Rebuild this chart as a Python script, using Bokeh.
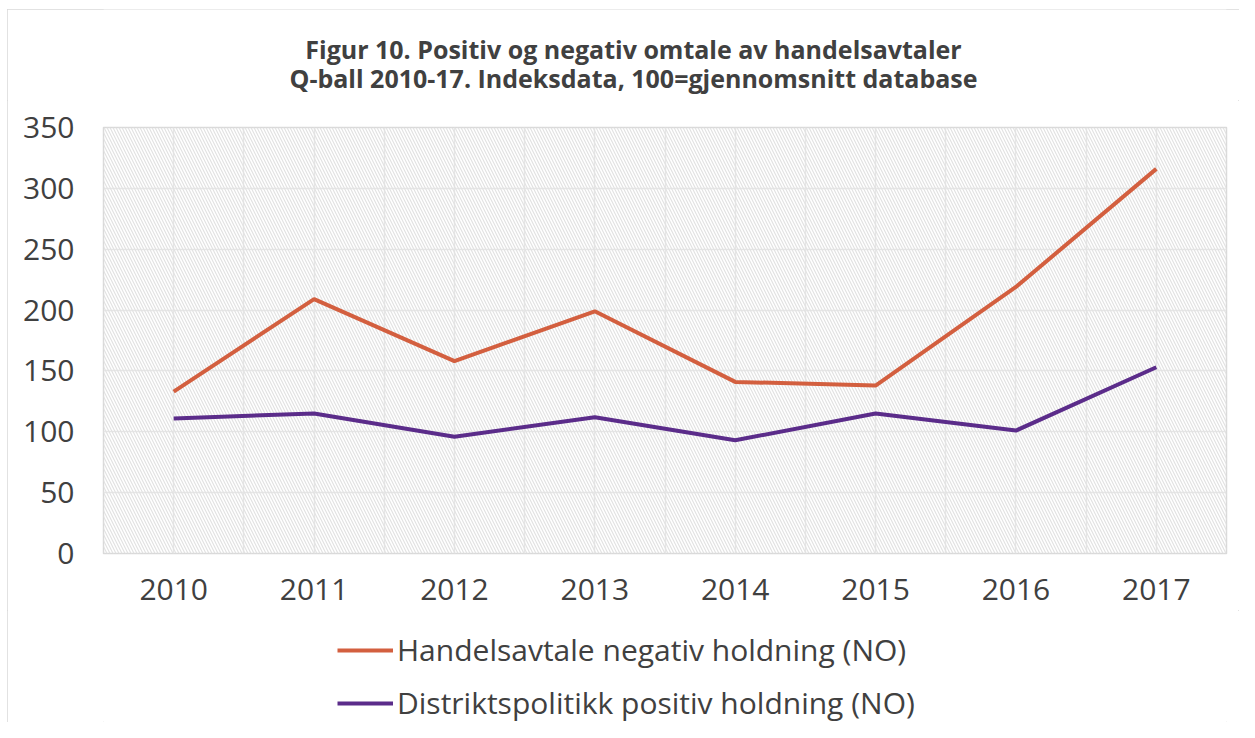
from bokeh.plotting import figure
from bokeh.layouts import column
from bokeh.models import (FixedTicker, Legend, LegendItem, BoxAnnotation, Label,
                          Range1d)
from bokeh.embed import file_html
from bokeh.resources import INLINE

# ---- data ----
years = [2010, 2011, 2012, 2013, 2014, 2015, 2016, 2017]
handel_negativ = [133, 209, 158, 199, 141, 138, 219, 316]
distrikt_positiv = [111, 115, 96, 112, 93, 115, 101, 153]
y_ticks = [0, 50, 100, 150, 200, 250, 300, 350]
series_names = ["Handelsavtale negativ holdning (NO)",
                "Distriktspolitikk positiv holdning (NO)"]
title_lines = ["Figur 10. Positiv og negativ omtale av handelsavtaler",
               "Q-ball 2010-17. Indeksdata, 100=gjennomsnitt database"]
colors = ["#D35F3F", "#5B2C8A"]

TEXT = "#404040"
FONT = "Open Sans"
W = 1232
H_TITLE, H_MAIN, H_LEG = 91, 510, 112
BL, BR = 96, 13   # shared left/right borders (frames are aligned in a column)


def bare(fig):
    fig.xaxis.visible = False
    fig.yaxis.visible = False
    fig.xgrid.visible = False
    fig.ygrid.visible = False
    fig.outline_line_color = None


# ---- title strip (pixel coordinates, y downward) ----
ft = figure(width=W, height=H_TITLE, output_backend="svg", toolbar_location=None,
            x_range=Range1d(BL, W - BR), y_range=Range1d(H_TITLE, 0),
            min_border_left=BL, min_border_right=BR, min_border_top=0,
            min_border_bottom=0)
bare(ft)
for i, line in enumerate(title_lines):
    ft.add_layout(Label(x=626, y=39 + 29 * i, text=line, text_align="center",
                        text_baseline="alphabetic", text_font=FONT,
                        text_font_style="bold", text_font_size="25px",
                        text_color=TEXT))

# ---- main chart ----
p = figure(width=W, height=H_MAIN, output_backend="svg", toolbar_location=None,
           x_range=(years[0] - 0.5, years[-1] + 0.5), y_range=(y_ticks[0], y_ticks[-1]),
           min_border_left=BL, min_border_right=BR, min_border_top=27,
           min_border_bottom=57)

p.add_layout(BoxAnnotation(fill_alpha=0, line_alpha=0, hatch_pattern="\\",
                           hatch_color="#E2E2E2", hatch_scale=6, hatch_weight=1.2,
                           level="underlay"))
p.outline_line_color = "#D9D9D9"
p.outline_line_width = 1.5

grid_x = [years[0] - 0.5 + 0.5 * i for i in range(2 * len(years) + 1)]
p.xgrid.ticker = FixedTicker(ticks=grid_x)
p.ygrid.ticker = FixedTicker(ticks=y_ticks)
for g in (p.xgrid, p.ygrid):
    g.grid_line_color = "#E6E6E6"
    g.grid_line_width = 1.5

p.xaxis.ticker = FixedTicker(ticks=years)
p.xaxis.major_label_overrides = {y: str(y) for y in years}
p.yaxis.ticker = FixedTicker(ticks=y_ticks)
for ax in (p.xaxis, p.yaxis):
    ax.axis_line_color = None
    ax.major_tick_line_color = None
    ax.minor_tick_line_color = None
    ax.major_label_text_font = FONT
    ax.major_label_text_font_size = "30px"
    ax.major_label_text_color = TEXT
p.xaxis.major_label_standoff = 19
p.yaxis.major_label_standoff = 23

p.line(years, handel_negativ, line_color=colors[0], line_width=4)
p.line(years, distrikt_positiv, line_color=colors[1], line_width=4)

# ---- legend strip (series drawn off-range; only the legend is visible) ----
fl = figure(width=W, height=H_LEG, output_backend="svg", toolbar_location=None,
            x_range=Range1d(0, 1), y_range=Range1d(0, 1),
            min_border_left=BL, min_border_right=BR, min_border_top=0,
            min_border_bottom=0)
bare(fl)
leg_r = [fl.line(years, vals, line_color=c, line_width=4)
         for vals, c in zip([handel_negativ, distrikt_positiv], colors)]
legend = Legend(items=[LegendItem(label=n, renderers=[r])
                       for n, r in zip(series_names, leg_r)],
                location=(234, -1), orientation="vertical",
                border_line_color=None, background_fill_alpha=0,
                label_text_font=FONT, label_text_font_size="30px",
                label_text_color=TEXT, glyph_width=56, glyph_height=20,
                label_height=20, spacing=12, padding=0, margin=0,
                label_standoff=4)
fl.add_layout(legend)

layout = column(ft, p, fl, spacing=0)
layout.margin = (9, 0, 0, 7)
layout.styles = {"outline": "1px solid #D9D9D9", "outline-offset": "-1px"}

open("out.html", "w").write(file_html(layout, INLINE))
